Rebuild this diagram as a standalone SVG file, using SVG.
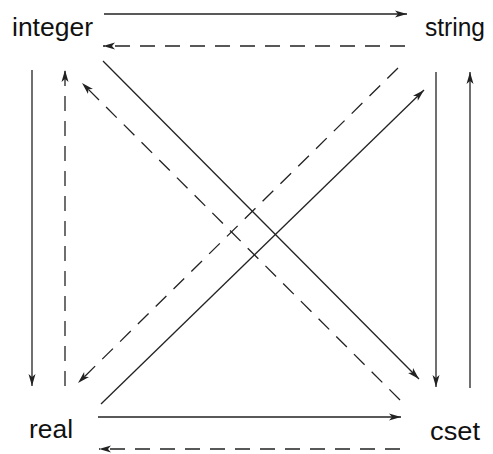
<svg xmlns="http://www.w3.org/2000/svg" width="493" height="454" viewBox="0 0 493 454">
<style>
.lbl{font-family:"Liberation Sans",Arial,sans-serif;font-size:25px;fill:#111}
.e{stroke:#222;stroke-width:1.3;fill:none;marker-end:url(#ah)}
.d{stroke-dasharray:15 10}
</style>
<defs>
<marker id="ah" viewBox="0 0 12 8" refX="12" refY="4" markerWidth="12" markerHeight="8" markerUnits="userSpaceOnUse" orient="auto">
<path d="M0,0.5 L12,4 L0,7.5 L3,4 Z" fill="#222"/>
</marker>
</defs>
<rect width="493" height="454" fill="#fff"/>
<g id="integer"><text class="lbl" x="12" y="36" textLength="81" lengthAdjust="spacingAndGlyphs">integer</text></g>
<g id="string"><text class="lbl" x="425" y="36" textLength="60" lengthAdjust="spacingAndGlyphs">string</text></g>
<g id="real"><text class="lbl" x="29" y="438" textLength="44" lengthAdjust="spacingAndGlyphs">real</text></g>
<g id="cset"><text class="lbl" x="430" y="440" textLength="50" lengthAdjust="spacingAndGlyphs">cset</text></g>
<g id="connectors">
<line class="e" x1="104" y1="14" x2="407" y2="14"/>
<line class="e d" x1="405" y1="46" x2="103" y2="46"/>
<line class="e" x1="98" y1="417" x2="401" y2="417"/>
<line class="e d" x1="400" y1="449" x2="99" y2="449"/>
<line class="e" x1="32" y1="70" x2="32" y2="386"/>
<line class="e d" x1="65" y1="386" x2="65" y2="70"/>
<line class="e" x1="436" y1="72" x2="436" y2="387"/>
<line class="e" x1="470" y1="388" x2="470" y2="72"/>
<line class="e" x1="103" y1="61" x2="419" y2="379"/>
<line class="e d" x1="400" y1="400" x2="82" y2="83"/>
<line class="e" x1="101" y1="404" x2="424" y2="90"/>
<line class="e d" x1="398" y1="68" x2="78" y2="383"/>
</g>
</svg>
